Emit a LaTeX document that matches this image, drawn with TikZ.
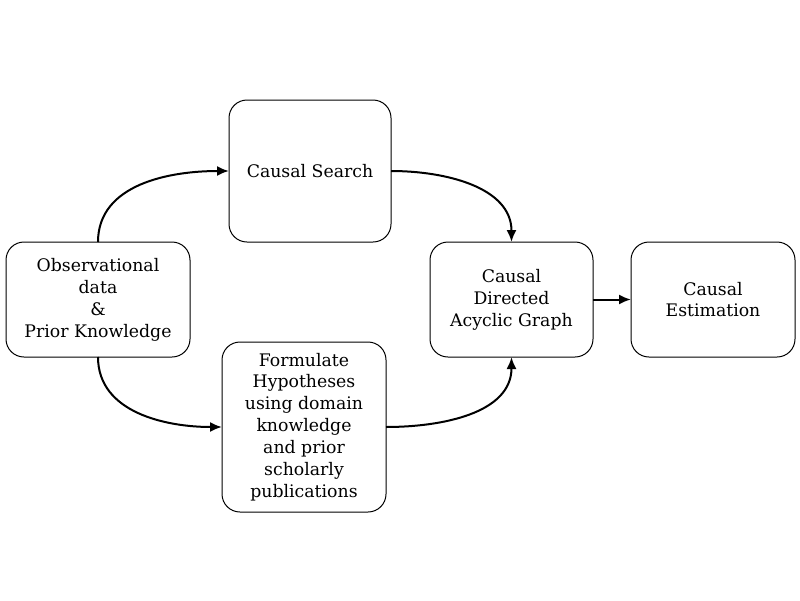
\documentclass[tikz,border=0pt]{standalone}
\usepackage{fontspec}
\setmainfont{DejaVu Serif}
\usetikzlibrary{arrows.meta}
\begin{document}
\begin{tikzpicture}[x=1pt,y=-1pt,
  box/.style={draw, line width=1pt, rounded corners=18pt, align=center, inner sep=0pt, outer sep=0pt,
    font=\fontsize{17.3}{21.9}\selectfont},
  conn/.style={line width=2pt, -{Latex[length=12pt,width=10pt]}}]
\useasboundingbox (0,0) rectangle (800,600);
\node[box, minimum width=184pt, minimum height=115pt] (obs) at (98,299.5) {Observational\\data\\\&\\Prior Knowledge};
\node[box, minimum width=162pt, minimum height=142pt] (cs) at (310,171) {Causal Search};
\node[box, minimum width=164pt, minimum height=170pt] (fh) at (304,427) {Formulate\\Hypotheses\\using domain\\knowledge\\and prior\\scholarly\\publications};
\node[box, minimum width=163pt, minimum height=115pt] (dag) at (511.5,299.5) {Causal\\Directed\\Acyclic Graph};
\node[box, minimum width=164pt, minimum height=115pt] (est) at (713,299.5) {Causal\\Estimation};
\draw[conn] (obs.north) to[out=90,in=180] (cs.west);
\draw[conn] (cs.east) to[out=0,in=90] (dag.north);
\draw[conn] (obs.south) to[out=-90,in=180] (fh.west);
\draw[conn] (fh.east) to[out=0,in=-90] (dag.south);
\draw[conn] (dag.east) -- (est.west);
\end{tikzpicture}
\end{document}
